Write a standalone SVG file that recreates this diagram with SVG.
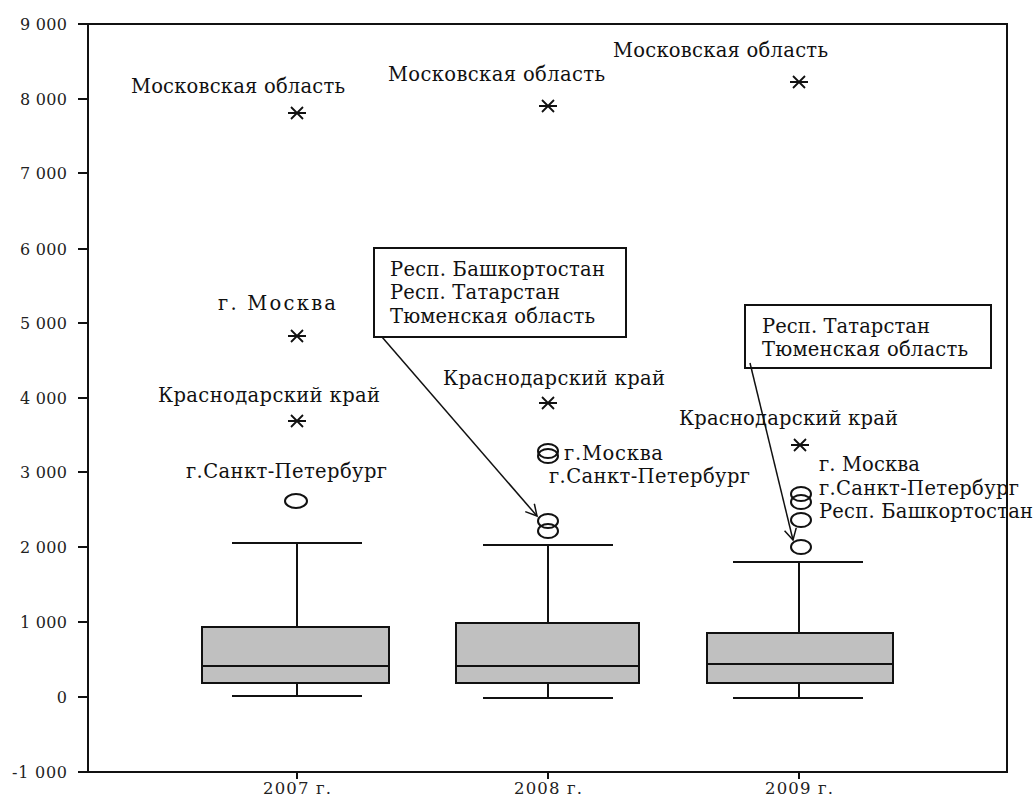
<svg xmlns="http://www.w3.org/2000/svg" xmlns:xlink="http://www.w3.org/1999/xlink" width="1035" height="800" viewBox="0 0 1035 800">
<style>
.ax{stroke:#111;stroke-width:2;fill:none}
.box{fill:#c0c0c0;stroke:#111;stroke-width:2}
.ln{stroke:#111;stroke-width:2;fill:none}
.out{fill:none;stroke:#111;stroke-width:2}
.t{font-family:"DejaVu Serif","Liberation Serif",serif;font-size:19.5px;fill:#111}
.yl{font-family:"DejaVu Serif","Liberation Serif",serif;font-size:16px;fill:#222;text-anchor:end}
.xl{font-family:"DejaVu Serif","Liberation Serif",serif;font-size:16.5px;fill:#222;text-anchor:middle}
.call{fill:#fff;stroke:#111;stroke-width:2}
.arr{stroke:#111;stroke-width:1.5;fill:none}
</style>
<defs>
<g id="ast"><path d="M-9,0 H9 M-6,-6 L6,6 M-6,6 L6,-6" stroke="#111" stroke-width="1.8" fill="none"/></g>
<marker id="ah" markerWidth="14" markerHeight="14" refX="12" refY="7" orient="auto" markerUnits="userSpaceOnUse"><path d="M1,1 L12,7 L1,13" fill="none" stroke="#111" stroke-width="1.5"/></marker>
</defs>
<rect width="1035" height="800" fill="#fff"/>
<g id="axes">
<path class="ax" d="M78,24 H1007 V772 H78 M88,24 V772"/>
<path class="ax" d="M78,99 H88 M78,173 H88 M78,249 H88 M78,323 H88 M78,398 H88 M78,472 H88 M78,547 H88 M78,622 H88 M78,697 H88"/>
<path class="ax" d="M297,772 V779 M548,772 V779 M799,772 V779"/>
<text class="yl" x="67" y="30" textLength="47">9 000</text>
<text class="yl" x="67" y="105" textLength="47">8 000</text>
<text class="yl" x="67" y="179" textLength="47">7 000</text>
<text class="yl" x="67" y="255" textLength="47">6 000</text>
<text class="yl" x="67" y="329" textLength="47">5 000</text>
<text class="yl" x="67" y="404" textLength="47">4 000</text>
<text class="yl" x="67" y="478" textLength="47">3 000</text>
<text class="yl" x="67" y="553" textLength="47">2 000</text>
<text class="yl" x="67" y="628" textLength="47">1 000</text>
<text class="yl" x="67" y="703">0</text>
<text class="yl" x="67" y="778" textLength="55">-1 000</text>
<text class="xl" x="297" y="794" textLength="68">2007 г.</text>
<text class="xl" x="548" y="794" textLength="68">2008 г.</text>
<text class="xl" x="799" y="794" textLength="68">2009 г.</text>
</g>
<g id="box2007">
<path class="ln" d="M232,543 H362 M297,543 V627 M297,683 V696 M232,696 H362"/>
<rect class="box" x="202" y="627" width="187" height="56"/>
<path class="ln" d="M202,666 H389"/>
<ellipse class="out" cx="296" cy="501" rx="11" ry="7"/>
<use xlink:href="#ast" x="297" y="113"/>
<use xlink:href="#ast" x="297" y="336"/>
<use xlink:href="#ast" x="297" y="421"/>
<text class="t" x="131" y="93" textLength="214">Московская область</text>
<text class="t" x="218" y="310" textLength="118">г. Москва</text>
<text class="t" x="158" y="402" textLength="222">Краснодарский край</text>
<text class="t" x="186" y="478" textLength="201">г.Санкт-Петербург</text>
</g>
<g id="box2008">
<path class="ln" d="M483,545 H613 M548,545 V623 M548,683 V698 M483,698 H613"/>
<rect class="box" x="456" y="623" width="183" height="60"/>
<path class="ln" d="M456,666 H639"/>
<ellipse class="out" cx="548" cy="451" rx="10" ry="7"/>
<ellipse class="out" cx="548" cy="456" rx="10" ry="7"/>
<ellipse class="out" cx="548" cy="521" rx="10" ry="7"/>
<ellipse class="out" cx="548" cy="531" rx="10" ry="7"/>
<use xlink:href="#ast" x="548" y="106"/>
<use xlink:href="#ast" x="548" y="403"/>
<text class="t" x="388" y="81" textLength="217">Московская область</text>
<text class="t" x="443" y="385" textLength="222">Краснодарский край</text>
<text class="t" x="564" y="460" textLength="99">г.Москва</text>
<text class="t" x="549" y="483" textLength="201">г.Санкт-Петербург</text>
</g>
<g id="box2009">
<path class="ln" d="M733,562 H863 M799,562 V633 M799,683 V698 M733,698 H863"/>
<rect class="box" x="707" y="633" width="186" height="50"/>
<path class="ln" d="M707,664 H893"/>
<ellipse class="out" cx="801" cy="494" rx="10" ry="7"/>
<ellipse class="out" cx="801" cy="502" rx="10" ry="7"/>
<ellipse class="out" cx="801" cy="520" rx="10" ry="7"/>
<ellipse class="out" cx="801" cy="547" rx="10" ry="7"/>
<use xlink:href="#ast" x="799" y="82"/>
<use xlink:href="#ast" x="800" y="445"/>
<text class="t" x="613" y="57" textLength="215">Московская область</text>
<text class="t" x="679" y="425" textLength="219">Краснодарский край</text>
<text class="t" x="819" y="471" textLength="101">г. Москва</text>
<text class="t" x="819" y="495" textLength="200">г.Санкт-Петербург</text>
<text class="t" x="819" y="518" textLength="214">Респ. Башкортостан</text>
</g>
<g id="callout1">
<rect class="call" x="374" y="248" width="252" height="89"/>
<text class="t" x="390" y="276" textLength="215">Респ. Башкортостан</text>
<text class="t" x="390" y="299" textLength="170">Респ. Татарстан</text>
<text class="t" x="390" y="323" textLength="205">Тюменская область</text>
</g>
<g id="callout2">
<rect class="call" x="745" y="305" width="246" height="63"/>
<text class="t" x="762" y="333" textLength="168">Респ. Татарстан</text>
<text class="t" x="762" y="356" textLength="206">Тюменская область</text>
</g>
<g id="connectors">
<path class="arr" d="M382,337 L537,516" marker-end="url(#ah)"/>
<path class="arr" d="M750,363 L793,540" marker-end="url(#ah)"/>
</g>
</svg>
